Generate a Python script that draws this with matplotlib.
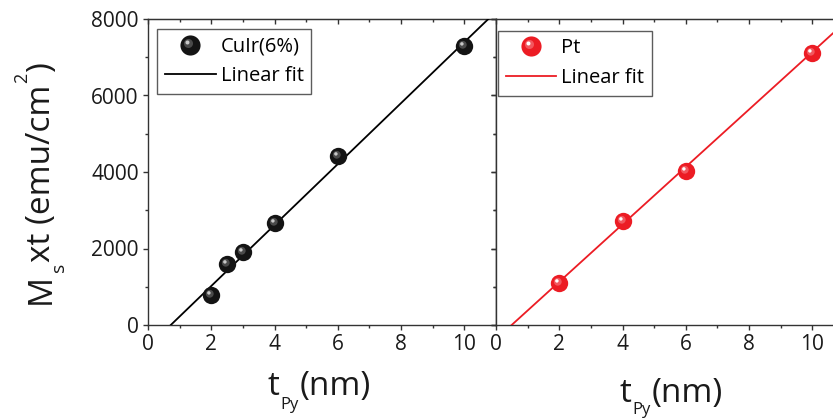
import numpy as np
import matplotlib
matplotlib.use("Agg")
import matplotlib.pyplot as plt
from matplotlib.path import Path
from matplotlib.legend_handler import HandlerTuple
from matplotlib.lines import Line2D

plt.rcParams['font.family'] = ['Open Sans', 'DejaVu Sans']

# ---- data ----
cuir_t = [2, 2.5, 3, 4, 6, 10]
cuir_m = [776, 1586, 1917, 2675, 4426, 7294]
pt_t = [2, 4, 6, 10]
pt_m = [1090, 2719, 4026, 7119]
# linear fit parameters (slope, intercept)
cuir_fit = (797.0, -574.0)
pt_fit = (751.0, -372.0)

x_ticks = [0, 2, 4, 6, 8, 10]
y_ticks = [0, 2000, 4000, 6000, 8000]
series_names = ['CuIr(6%)', 'Pt']
fit_name = 'Linear fit'
# label pieces: (text, fontsize, baseline shift in px, gap after in px)
ylabel_parts = [('M', 24, 0, 2), ('s', 14, -14, 1), ('xt (emu/cm', 24, 0, 1), ('2', 13, 23, 1), (')', 24, 0, 0)]
xlabel_parts_left = [('t', 24, 0, 1), ('Py', 12, -14, 1), ('(nm)', 24, 0, 0)]
xlabel_parts_right = [('t', 24, 0, 1), ('Py', 12, -12, 1), ('(nm)', 24, 0, 0)]

W, H = 833, 419
fig = plt.figure(figsize=(W / 100, H / 100), dpi=100)

x0, x_mid, ptop, pbot = 148, 496, 19, 325
aw = (x_mid - x0) / W
ah = (pbot - ptop) / H
by = 1 - pbot / H
axL = fig.add_axes([x0 / W, by, aw, ah])
axR = fig.add_axes([x_mid / W, by, aw, ah])


def offset_circle(cx, cy, r):
    c = Path.circle((cx, cy), r)
    verts = np.concatenate([[[1.0, 0.0], [-1.0, 0.0]], c.vertices])
    codes = [Path.MOVETO, Path.MOVETO] + list(c.codes)
    return Path(verts, codes)


mid_path = offset_circle(-0.2, 0.2, 0.45)
hi_path = offset_circle(-0.3, 0.3, 0.2)


def sphere(ax, x, y, base, mid, hi, ms):
    ax.plot(x, y, ls='none', marker='o', ms=ms, mfc=base, mec=base, mew=0, zorder=5)
    ax.plot(x, y, ls='none', marker=mid_path, ms=ms, mfc=mid, mec=mid, mew=0, zorder=6)
    ax.plot(x, y, ls='none', marker=hi_path, ms=ms, mfc=hi, mec=hi, mew=0, zorder=7)


red = '#ec1c24'
panels = [
    (axL, cuir_t, cuir_m, cuir_fit, 'k', ('#141414', '#4a4a4a', '#c8c8c8'), series_names[0], (0.027, 0.968)),
    (axR, pt_t, pt_m, pt_fit, red, (red, '#f2575e', '#ffffff'), series_names[1], (0.006, 0.962)),
]

for ax, xs, ys, fit, lc, cols, name, lpos in panels:
    xx = np.array([0, 11])
    ax.plot(xx, fit[0] * xx + fit[1], color=lc, lw=1.3, zorder=3)
    sphere(ax, xs, ys, *cols, ms=12.5)
    fl = Line2D([], [], color=lc, lw=1.3)
    leg_hs = (
        Line2D([], [], ls='none', marker='o', ms=14.5, mfc=cols[0], mew=0),
        Line2D([], [], ls='none', marker=mid_path, ms=14.5, mfc=cols[1], mew=0),
        Line2D([], [], ls='none', marker=hi_path, ms=14.5, mfc=cols[2], mew=0),
    )
    leg = ax.legend([leg_hs, fl], [name, fit_name], loc='upper left',
                    bbox_to_anchor=lpos, fontsize=14.5, frameon=True, fancybox=False,
                    handler_map={tuple: HandlerTuple(ndivide=1)}, handlelength=2.5,
                    handletextpad=0.25, labelspacing=0.47, borderpad=0.39,
                    borderaxespad=0)
    leg.get_frame().set_edgecolor('#333333')
    leg.get_frame().set_linewidth(1.0)

    ax.set_xlim(0, 11)
    ax.set_ylim(0, 8000)
    ax.set_xticks(x_ticks)
    ax.set_xticks(np.arange(1, 11, 2), minor=True)
    ax.set_yticks(y_ticks)
    ax.set_yticks(np.arange(1000, 8000, 2000), minor=True)
    ax.tick_params(which='major', direction='out', length=3.6, width=1, labelsize=15, pad=3,
                   color='#333333', labelcolor='#1a1a1a')
    ax.tick_params(which='minor', direction='out', length=2.2, width=1, color='#333333')
    for sp in ax.spines.values():
        sp.set_linewidth(1.0)
        sp.set_color('#333333')

    top = ax.secondary_xaxis('top')
    top.set_xticks(x_ticks)
    top.set_xticks(np.arange(1, 11, 2), minor=True)
    top.tick_params(which='major', direction='in', length=3.6, width=1, labeltop=False, color='#333333')
    top.tick_params(which='minor', direction='in', length=2.2, width=1, color='#333333')
    top.spines['top'].set_color('#333333')
    right = ax.secondary_yaxis('right')
    right.set_yticks(y_ticks)
    right.set_yticks(np.arange(1000, 8000, 2000), minor=True)
    right.tick_params(which='major', direction='in', length=3.6, width=1, labelright=False, color='#333333')
    right.tick_params(which='minor', direction='in', length=2.2, width=1, color='#333333')
    right.spines['right'].set_color('#333333')

axR.tick_params(axis='y', labelleft=False)

renderer = fig.canvas.get_renderer()


def compound_text(parts, start, baseline, vertical=False, center=None):
    """Place text pieces along a line (in figure pixels, origin bottom-left)."""
    widths = []
    for txt, size, _, _ in parts:
        t = fig.text(0, 0, txt, fontsize=size)
        widths.append(t.get_window_extent(renderer).width)
        t.remove()
    total = sum(widths) + sum(p[3] for p in parts)
    if center is not None:
        start = center - total / 2
    pos = start
    for (txt, size, shift, gap), w in zip(parts, widths):
        if vertical:
            x, y, rot = baseline - shift, pos, 90
        else:
            x, y, rot = pos, baseline + shift, 0
        fig.text(x / W, y / H, txt, fontsize=size, rotation=rot, rotation_mode='anchor',
                 ha='left', va='baseline', color='#1a1a1a')
        pos += w + gap


compound_text(ylabel_parts, 419 - 304, 50, vertical=True)
compound_text(xlabel_parts_left, 0, 419 - 395, center=319)
compound_text(xlabel_parts_right, 0, 419 - 402, center=671)

fig.savefig('out.png', dpi=100)
